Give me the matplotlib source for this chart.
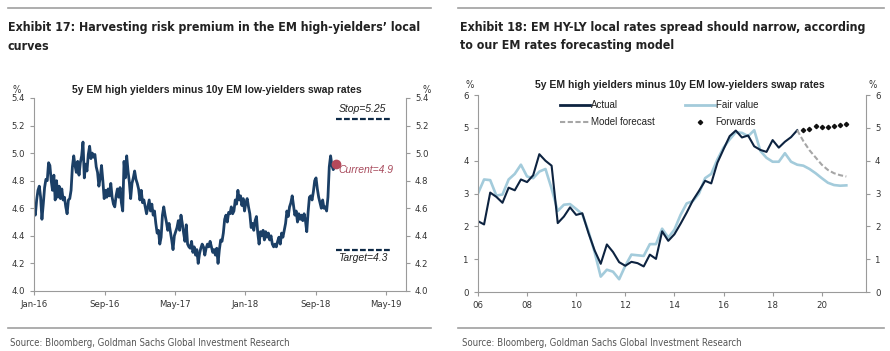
import numpy as np
import pandas as pd
import matplotlib
matplotlib.use('Agg')
import matplotlib.pyplot as plt
import matplotlib.dates as mdates
from matplotlib.lines import Line2D

# ---- Exhibit 17 data: 5y EM HY minus 10y EM LY swap rates (approx. every ~4-5 days)
spread_vals = [
    4.61, 4.55, 4.66, 4.73, 4.76, 4.68, 4.52, 4.63, 4.75, 4.81, 4.80, 4.93, 4.91, 4.80,
    4.73, 4.84, 4.66, 4.80, 4.68, 4.76, 4.67, 4.74, 4.66, 4.68, 4.61, 4.56, 4.66, 4.67,
    4.73, 4.90, 4.98, 4.91, 4.86, 4.94, 4.84, 4.93, 4.98, 5.08, 4.82, 4.92, 4.87, 4.99,
    5.05, 4.96, 5.00, 4.97, 4.99, 4.90, 4.86, 4.76, 4.82, 4.91, 4.80, 4.67, 4.73, 4.68,
    4.74, 4.69, 4.78, 4.68, 4.63, 4.61, 4.69, 4.74, 4.68, 4.75, 4.64, 4.58, 4.94, 4.82,
    4.98, 4.87, 4.79, 4.67, 4.78, 4.82, 4.87, 4.81, 4.78, 4.74, 4.66, 4.73, 4.64, 4.66,
    4.61, 4.56, 4.61, 4.66, 4.58, 4.63, 4.55, 4.58, 4.49, 4.42, 4.44, 4.34, 4.39, 4.55,
    4.61, 4.55, 4.50, 4.44, 4.49, 4.43, 4.37, 4.30, 4.40, 4.43, 4.46, 4.51, 4.44, 4.55,
    4.49, 4.42, 4.36, 4.48, 4.34, 4.32, 4.31, 4.36, 4.28, 4.32, 4.26, 4.30, 4.20, 4.27,
    4.31, 4.34, 4.32, 4.26, 4.31, 4.34, 4.32, 4.36, 4.32, 4.28, 4.30, 4.26, 4.31, 4.20,
    4.30, 4.37, 4.36, 4.42, 4.52, 4.55, 4.50, 4.57, 4.56, 4.61, 4.56, 4.58, 4.66, 4.63,
    4.73, 4.66, 4.69, 4.62, 4.67, 4.58, 4.64, 4.67, 4.61, 4.56, 4.46, 4.49, 4.44, 4.51,
    4.54, 4.42, 4.34, 4.43, 4.40, 4.44, 4.37, 4.43, 4.39, 4.42, 4.37, 4.40, 4.34, 4.32,
    4.34, 4.32, 4.36, 4.39, 4.34, 4.42, 4.39, 4.44, 4.49, 4.58, 4.54, 4.61, 4.64, 4.69,
    4.62, 4.55, 4.58, 4.50, 4.56, 4.52, 4.55, 4.51, 4.56, 4.51, 4.43, 4.57, 4.68, 4.69,
    4.66, 4.72, 4.80, 4.82, 4.74, 4.68, 4.64, 4.60, 4.66, 4.60, 4.61, 4.58, 4.68, 4.90,
    4.98, 4.91, 4.88, 4.91,
]
spread_start = '2016-01-01'
spread_end = '2018-11-05'
current_val = 4.92
stop_level = 5.25
target_level = 4.3
level_span = ['2018-11-10', '2019-05-15']

# ---- Exhibit 18 data: quarterly, 2006Q1 onwards
actual_vals = [
    2.16, 2.06, 3.03, 2.90, 2.72, 3.18, 3.10, 3.43, 3.35, 3.56, 4.20, 4.00, 3.85,
    2.10, 2.30, 2.58, 2.35, 2.40, 1.80, 1.27, 0.86, 1.45, 1.22, 0.91, 0.80, 0.92,
    0.88, 0.78, 1.14, 1.01, 1.85, 1.56, 1.76, 2.08, 2.42, 2.79, 3.08, 3.39, 3.31,
    3.94, 4.35, 4.75, 4.92, 4.71, 4.77, 4.44, 4.33, 4.27, 4.63, 4.40, 4.58, 4.72,
    4.93,
]
fair_vals = [
    3.00, 3.43, 3.41, 2.94, 2.97, 3.43, 3.60, 3.88, 3.52, 3.47, 3.67, 3.75, 3.15,
    2.47, 2.66, 2.68, 2.53, 2.37, 1.85, 1.22, 0.47, 0.68, 0.62, 0.39, 0.80, 1.14,
    1.12, 1.10, 1.46, 1.46, 1.93, 1.66, 1.90, 2.35, 2.70, 2.77, 3.00, 3.47, 3.60,
    4.04, 4.40, 4.65, 4.87, 4.85, 4.75, 4.93, 4.30, 4.09, 3.97, 3.97, 4.23, 3.97,
    3.88, 3.85, 3.75, 3.62, 3.47, 3.33, 3.26, 3.24, 3.25,
]
model_vals = [4.93, 4.60, 4.32, 4.10, 3.88, 3.72, 3.62, 3.56, 3.52]   # from 2019Q1
fwd_vals = [4.95, 4.98, 5.05, 5.02, 5.04, 5.07, 5.08, 5.11]            # from 2019Q2
year_ticks = [2006, 2008, 2010, 2012, 2014, 2016, 2018, 2020]
year_labels = ['06', '08', '10', '12', '14', '16', '18', '20']

plain = ['Liberation Sans', 'DejaVu Sans']
cond = dict(family='DejaVu Sans', stretch='condensed')
grey = '#9a9a9a'
txt = '#333333'

fig = plt.figure(figsize=(8.9, 3.51), dpi=100, facecolor='white')


def frame(ax):
    for s in ['left', 'bottom', 'right']:
        ax.spines[s].set_color(grey)
        ax.spines[s].set_linewidth(0.8)
    ax.spines['top'].set_visible(False)
    ax.tick_params(axis='both', which='both', direction='out', length=3, width=0.8,
                   color=grey, labelcolor=txt, labelsize=6.8)
    ax.tick_params(axis='y', right=True, labelright=True)
    for lab in ax.get_xticklabels() + ax.get_yticklabels():
        lab.set_family('DejaVu Sans')
        lab.set_stretch('condensed')


# ---------------- Exhibit 17
ax1 = fig.add_axes([0.0382, 0.171, 0.418, 0.55])
d1 = pd.date_range(spread_start, spread_end, periods=len(spread_vals))
ax1.plot(d1, spread_vals, color='#1b3f66', lw=2.0, solid_joinstyle='round')
ax1.plot(d1[-1:] + pd.Timedelta(days=5), [current_val], 'o', color='#b5495b', ms=6)
lvl_x = pd.to_datetime(level_span)
ax1.plot(lvl_x, [stop_level, stop_level], color='#0e2a47', lw=1.6, dashes=(2.6, 1.0))
ax1.plot(lvl_x, [target_level, target_level], color='#0e2a47', lw=1.6, dashes=(2.6, 1.0))
ax1.text(pd.Timestamp('2019-02-10'), 5.32, 'Stop=5.25', ha='center', va='center',
         fontsize=7.5, style='italic', color='#222222', family=plain)
ax1.text(pd.Timestamp('2019-02-12'), 4.24, 'Target=4.3', ha='center', va='center',
         fontsize=7.5, style='italic', color='#222222', family=plain)
ax1.text(pd.Timestamp('2018-11-18'), 4.88, 'Current=4.9', ha='left', va='center',
         fontsize=7.5, style='italic', color='#a84a5c', family=plain)

ax1.set_xlim(pd.Timestamp('2016-01-01'), pd.Timestamp('2019-07-10'))
ax1.set_ylim(4.0, 5.4)
ax1.set_yticks(np.arange(4.0, 5.41, 0.2))
ax1.yaxis.set_major_formatter(matplotlib.ticker.FormatStrFormatter('%.1f'))
ax1.set_xticks(pd.to_datetime(['2016-01-01', '2016-09-01', '2017-05-01', '2018-01-01',
                               '2018-09-01', '2019-05-01']))
ax1.xaxis.set_major_formatter(mdates.DateFormatter('%b-%y'))
frame(ax1)

# ---------------- Exhibit 18
ax2 = fig.add_axes([0.537, 0.168, 0.436, 0.561])
qa = 2006 + 0.25 * np.arange(len(actual_vals))
qf = 2006 + 0.25 * np.arange(len(fair_vals))
qm = 2019 + 0.25 * np.arange(len(model_vals))
qw = 2019.25 + 0.25 * np.arange(len(fwd_vals))
ax2.plot(qf, fair_vals, color='#a3cbdb', lw=1.9)
ax2.plot(qa, actual_vals, color='#0d2340', lw=1.5)
ax2.plot(qm, model_vals, color='#a6a6a6', lw=1.5, dashes=(2.5, 1.2))
ax2.plot(qw, fwd_vals, 'D', color='#111111', ms=2.2)
ax2.set_xlim(2006, 2021.8)
ax2.set_ylim(0, 6)
ax2.set_yticks(range(0, 7))
ax2.set_xticks(year_ticks)
ax2.set_xticklabels(year_labels)
frame(ax2)

# ncol=2 fills column-wise: Actual / Model forecast, then Fair value / Forwards
h = [Line2D([], [], color='#0d2340', lw=2),
     Line2D([], [], color='#a6a6a6', lw=1.5, dashes=(2.5, 1.2)),
     Line2D([], [], color='#a3cbdb', lw=2),
     Line2D([], [], color='#111111', marker='D', ms=2.2, ls='none')]
leg = ax2.legend(h, ['Actual', 'Model forecast', 'Fair value', 'Forwards'], ncol=2,
                 loc='upper left', bbox_to_anchor=(0.19, 1.02), frameon=False,
                 handlelength=3.0, handletextpad=0.1, columnspacing=3.2,
                 labelspacing=0.75, prop={'family': plain, 'size': 7})
for t in leg.get_texts():
    t.set_color('#222222')

# ---------------- titles, units, sources, rules
for x0, x1, tx, lines in [(8, 431, 8, ['Exhibit 17: Harvesting risk premium in the EM high-yielders\u2019 local',
                                        'curves']),
                          (458, 884, 460, ['Exhibit 18: EM HY-LY local rates spread should narrow, according',
                                           'to our EM rates forecasting model'])]:
    fig.add_artist(Line2D([x0 / 890, x1 / 890], [1 - 8 / 351, 1 - 8 / 351], color='#a0a0a0', lw=1.2))
    fig.add_artist(Line2D([x0 / 890, x1 / 890], [1 - 328 / 351, 1 - 328 / 351], color='#a0a0a0', lw=1.2))
    fig.text(tx / 890, 1 - 28 / 351, lines[0], fontsize=8.9, weight='bold', **cond,
             color='#222222', va='center')
    fig.text(tx / 890, 1 - 46 / 351, lines[1], fontsize=8.9, weight='bold', **cond,
             color='#222222', va='center')
    fig.text((tx + 2) / 890, 1 - 343 / 351,
             'Source: Bloomberg, Goldman Sachs Global Investment Research',
             fontsize=6.9, **cond, color='#555555', va='center')

sub = '5y EM high yielders minus 10y EM low-yielders swap rates'
fig.text(217 / 890, 1 - 90 / 351, sub, fontsize=7.5, weight='bold', family=plain,
         color='#222222', ha='center', va='center')
fig.text(680 / 890, 1 - 85 / 351, sub, fontsize=7.5, weight='bold', family=plain,
         color='#222222', ha='center', va='center')
for xp, yp in [(17, 90), (427, 90), (470, 85), (873, 85)]:
    fig.text(xp / 890, 1 - yp / 351, '%', fontsize=7, **cond, color=txt,
             ha='center', va='center')

plt.savefig('out.png', dpi=100, facecolor='white')
